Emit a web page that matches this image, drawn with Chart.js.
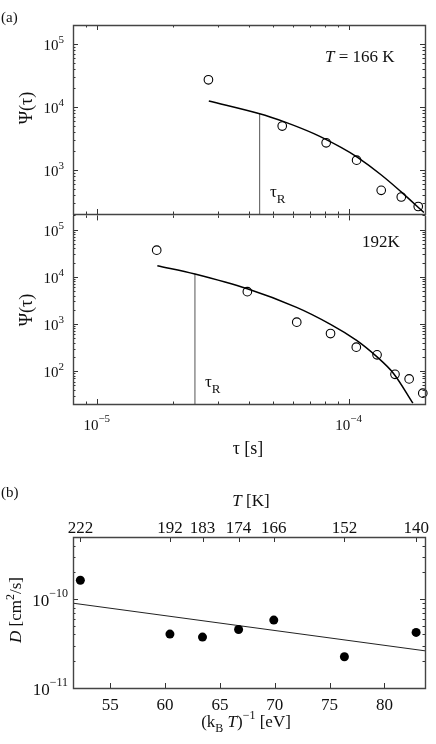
<!DOCTYPE html>
<html>
<head>
<meta charset="utf-8">
<script src="https://cdn.jsdelivr.net/npm/chart.js@4.4.1/dist/chart.umd.min.js"></script>
<style>
  body { margin: 0; background: #fff; }
  #wrap { position: relative; width: 436px; height: 744px; }
  canvas { position: absolute; left: 0; }
</style>
</head>
<body>
<div id="wrap">
  <canvas id="c1" width="436" height="220" style="top:0px"></canvas>
  <canvas id="c2" width="436" height="250" style="top:210px"></canvas>
  <canvas id="c3" width="436" height="284" style="top:460px"></canvas>
</div>
<script>
// panel (a) top, T = 166 K
const tau166 = [2.76e-5, 5.42e-5, 8.1e-5, 1.07e-4, 1.34e-4, 1.61e-4, 1.88e-4];
const psi166 = [27000, 4980, 2700, 1430, 475, 372, 263];
const fitTau166 = [2.77e-5, 4.41e-5, 5.5e-5, 7.24e-5, 9.24e-5, 1.076e-4, 1.33e-4, 1.6e-4, 1.98e-4];
const fitPsi166 = [12460, 7820, 5850, 3770, 2300, 1594, 854, 457, 211];
const tauR166 = 4.41e-5;

// panel (a) bottom, T = 192 K
const tau192 = [1.72e-5, 3.94e-5, 6.19e-5, 8.43e-5, 1.067e-4, 1.29e-4, 1.52e-4, 1.73e-4, 1.96e-4];
const psi192 = [36600, 4820, 1090, 624, 321, 221, 85, 68, 34];
const fitTau192 = [1.73e-5, 2.44e-5, 3.94e-5, 6.18e-5, 8.43e-5, 1.07e-4, 1.29e-4, 1.5e-4, 1.79e-4];
const fitPsi192 = [17090, 11400, 5550, 2245, 980, 448, 200, 89, 20.8];
const tauR192 = 2.44e-5;

// panel (b)
const invKT = [52.27, 60.44, 63.41, 66.70, 69.91, 76.35, 82.89];
const diffD = [1.63e-10, 4.04e-11, 3.74e-11, 4.55e-11, 5.81e-11, 2.25e-11, 4.22e-11];
const fitInvKT = [51.6, 83.7];
const fitD = [9.0e-11, 2.62e-11];
const invKTTicks = [55, 60, 65, 70, 75, 80];
const tempTicks = [222, 192, 183, 174, 166, 152, 140];
const kB = 8.617e-5; // eV/K

const SERIF = '"Liberation Serif", "DejaVu Serif", serif';

function fnt(size, italic) {
  return (italic ? 'italic ' : '') + size + 'px ' + SERIF;
}

// draw a run of text pieces {t, s, i, dy}
function rich(ctx, parts, x, y, align) {
  let w = 0;
  parts.forEach(p => { ctx.font = fnt(p.s, p.i); p.w = ctx.measureText(p.t).width; w += p.w; });
  let cx = align === 'right' ? x - w : align === 'center' ? x - w / 2 : x;
  ctx.textAlign = 'left';
  ctx.textBaseline = 'alphabetic';
  parts.forEach(p => {
    ctx.font = fnt(p.s, p.i);
    ctx.fillText(p.t, cx, y + (p.dy || 0));
    cx += p.w;
  });
}

function pow10(exp, size, sup, rise) {
  return [{ t: '10', s: size }, { t: String(exp).replace('-', '\u2212'), s: sup, dy: -rise }];
}

function logTicks(min, max) {
  const major = [], minor = [];
  for (let e = Math.floor(Math.log10(min)); e <= Math.ceil(Math.log10(max)); e++) {
    for (let k = 1; k < 10; k++) {
      const v = k * Math.pow(10, e);
      if (v < min * 0.999 || v > max * 1.001) continue;
      (k === 1 ? major : minor).push(v);
    }
  }
  return { major, minor };
}

function seg(ctx, x1, y1, x2, y2) {
  ctx.beginPath(); ctx.moveTo(x1, y1); ctx.lineTo(x2, y2); ctx.stroke();
}

// inward ticks on all four sides plus the box
function drawFrame(chart, spec) {
  const { ctx, chartArea: a, scales: { x, y } } = chart;
  ctx.save();
  ctx.strokeStyle = '#333';
  ctx.lineWidth = 1;
  (spec.xBottom || []).forEach(t => {
    const px = Math.round(x.getPixelForValue(t.v)) + 0.5;
    seg(ctx, px, a.bottom, px, a.bottom - t.len);
  });
  (spec.xTop || []).forEach(t => {
    const px = Math.round(x.getPixelForValue(t.v)) + 0.5;
    seg(ctx, px, a.top, px, a.top + t.len);
  });
  (spec.yTicks || []).forEach(t => {
    const py = Math.round(y.getPixelForValue(t.v)) + 0.5;
    seg(ctx, a.left, py, a.left + t.len, py);
    seg(ctx, a.right, py, a.right - t.len, py);
  });
  ctx.strokeStyle = '#444';
  ctx.lineWidth = 1.4;
  const l = a.left + 0.5, r = a.right + 0.5, t = a.top + 0.5, b = a.bottom + 0.5;
  ctx.beginPath();
  if (spec.noTop) {
    ctx.moveTo(l, t); ctx.lineTo(l, b); ctx.lineTo(r, b); ctx.lineTo(r, t);
  } else {
    ctx.rect(l, t, r - l, b - t);
  }
  ctx.stroke();
  ctx.restore();
}

function tickList(lt, majLen, minLen) {
  return lt.major.map(v => ({ v, len: majLen })).concat(lt.minor.map(v => ({ v, len: minLen })));
}

function panelPlugin(top, spec, labels) {
  return {
    id: 'panel',
    afterDatasetsDraw(chart) {
      drawFrame(chart, spec);
      const ctx = chart.ctx;
      ctx.save();
      ctx.translate(0, -top);
      ctx.fillStyle = '#111';
      labels(ctx, chart);
      ctx.restore();
    }
  };
}

function pts(xs, ys) {
  return xs.map((v, i) => ({ x: v, y: ys[i] }));
}

const circleStyle = {
  pointStyle: 'circle', pointRadius: 4.3, borderWidth: 1.1,
  borderColor: '#000', backgroundColor: 'rgba(0,0,0,0)', clip: false
};
const curveStyle = {
  showLine: true, pointRadius: 0, borderColor: '#000', borderWidth: 1.5,
  tension: 0.35
};
const markStyle = { showLine: true, pointRadius: 0, borderColor: '#555', borderWidth: 1 };

function baseOptions(pad, xs, ys) {
  return {
    responsive: false,
    animation: false,
    layout: { padding: pad },
    plugins: { legend: { display: false }, tooltip: { enabled: false } },
    scales: { x: Object.assign({ display: false }, xs), y: Object.assign({ display: false }, ys) }
  };
}

const tauMin = 8e-6, tauMax = 2e-4;
const tauTicks = tickList(logTicks(tauMin, tauMax), 5, 2.5);

function psiLabel(ctx, cy) {
  ctx.save();
  ctx.translate(32, cy);
  ctx.rotate(-Math.PI / 2);
  rich(ctx, [{ t: '\u03A8(\u03C4)', s: 18 }], 0, 0, 'center');
  ctx.restore();
}

function tauR(ctx, x, y) {
  rich(ctx, [{ t: '\u03C4', s: 17 }, { t: 'R', s: 13, dy: 6 }], x, y, 'left');
}

// ---- panel (a), 166 K
new Chart(document.getElementById('c1'), {
  type: 'scatter',
  data: {
    datasets: [
      Object.assign({ data: pts(tau166, psi166) }, circleStyle),
      Object.assign({ data: pts(fitTau166, fitPsi166) }, curveStyle),
      Object.assign({ data: pts([tauR166, tauR166], [200, fitPsi166[1]]) }, markStyle)
    ]
  },
  options: baseOptions({ left: 73, right: 11, top: 25, bottom: 6 },
    { type: 'logarithmic', min: tauMin, max: tauMax },
    { type: 'logarithmic', min: 200, max: 2e5 }),
  plugins: [panelPlugin(0, {
    xBottom: tauTicks, xTop: tauTicks,
    yTicks: tickList(logTicks(200, 2e5), 5, 2.5)
  }, (ctx, chart) => {
    const y = chart.scales.y;
    [3, 4, 5].forEach(e => {
      const py = y.getPixelForValue(Math.pow(10, e));
      rich(ctx, pow10(e, 15, 11, 7), 64, py + 6, 'right');
    });
    rich(ctx, [{ t: '(a)', s: 15 }], 1, 22, 'left');
    psiLabel(ctx, 108);
    rich(ctx, [{ t: 'T', s: 17, i: true }, { t: ' = 166 K', s: 17 }], 325, 62, 'left');
    tauR(ctx, 270, 197);
  })]
});

// ---- panel (a), 192 K
new Chart(document.getElementById('c2'), {
  type: 'scatter',
  data: {
    datasets: [
      Object.assign({ data: pts(tau192, psi192) }, circleStyle),
      Object.assign({ data: pts(fitTau192, fitPsi192) }, curveStyle),
      Object.assign({ data: pts([tauR192, tauR192], [20, fitPsi192[1]]) }, markStyle)
    ]
  },
  options: baseOptions({ left: 73, right: 11, top: 4, bottom: 56 },
    { type: 'logarithmic', min: tauMin, max: tauMax },
    { type: 'logarithmic', min: 20, max: 2e5 }),
  plugins: [panelPlugin(210, {
    xBottom: tauTicks, xTop: tauTicks, noTop: true,
    yTicks: tickList(logTicks(20, 2e5), 5, 2.5)
  }, (ctx, chart) => {
    const { x, y } = chart.scales;
    [2, 3, 4, 5].forEach(e => {
      const py = y.getPixelForValue(Math.pow(10, e)) + 210;
      rich(ctx, pow10(e, 15, 11, 7), 64, py + 6, 'right');
    });
    [-5, -4].forEach(e => {
      const px = x.getPixelForValue(Math.pow(10, e));
      rich(ctx, [{ t: '10', s: 15 }], px + 1, 430, 'right');
      rich(ctx, [{ t: '\u2212' + Math.abs(e), s: 11 }], px + 1, 422, 'left');
    });
    rich(ctx, [{ t: '\u03C4 [s]', s: 18 }], 248, 454, 'center');
    psiLabel(ctx, 310);
    rich(ctx, [{ t: '192K', s: 17 }], 362, 247, 'left');
    tauR(ctx, 205, 387);
  })]
});

// ---- panel (b)
const tempPos = tempTicks.map(T => 1 / (kB * T));
new Chart(document.getElementById('c3'), {
  type: 'scatter',
  data: {
    datasets: [
      {
        data: pts(invKT, diffD), pointStyle: 'circle', pointRadius: 4.5,
        borderWidth: 0, backgroundColor: '#000', clip: false
      },
      Object.assign({ data: pts(fitInvKT, fitD) }, markStyle, { borderColor: '#222' })
    ]
  },
  options: baseOptions({ left: 73, right: 11, top: 77, bottom: 56 },
    { type: 'linear', min: 51.6, max: 83.7 },
    { type: 'logarithmic', min: 1e-11, max: 5e-10 }),
  plugins: [panelPlugin(460, {
    xBottom: invKTTicks.map(v => ({ v, len: 5 })),
    xTop: tempPos.map(v => ({ v, len: 5 })),
    yTicks: tickList(logTicks(1e-11, 5e-10), 5, 2.5)
  }, (ctx, chart) => {
    const { x, y } = chart.scales;
    [-11, -10].forEach(e => {
      const py = y.getPixelForValue(Math.pow(10, e)) + 460;
      rich(ctx, pow10(e, 17, 12, 9), 68, py + 7, 'right');
    });
    invKTTicks.forEach(v => {
      rich(ctx, [{ t: String(v), s: 17 }], x.getPixelForValue(v), 710, 'center');
    });
    tempTicks.forEach((T, i) => {
      rich(ctx, [{ t: String(T), s: 17 }], x.getPixelForValue(tempPos[i]), 533, 'center');
    });
    rich(ctx, [{ t: '(b)', s: 15 }], 1, 497, 'left');
    rich(ctx, [{ t: 'T', s: 17, i: true }, { t: ' [K]', s: 17 }], 251, 506, 'center');
    rich(ctx, [
      { t: '(k', s: 17 }, { t: 'B', s: 12, dy: 5 }, { t: ' ', s: 17 },
      { t: 'T', s: 17, i: true }, { t: ')', s: 17 }, { t: '\u22121', s: 12, dy: -8 },
      { t: ' [eV]', s: 17 }
    ], 246, 727, 'center');
    ctx.save();
    ctx.translate(21, 610);
    ctx.rotate(-Math.PI / 2);
    rich(ctx, [
      { t: 'D', s: 17, i: true }, { t: ' [cm', s: 17 }, { t: '2', s: 12, dy: -7 }, { t: '/s]', s: 17 }
    ], 0, 0, 'center');
    ctx.restore();
  })]
});
</script>
</body>
</html>
